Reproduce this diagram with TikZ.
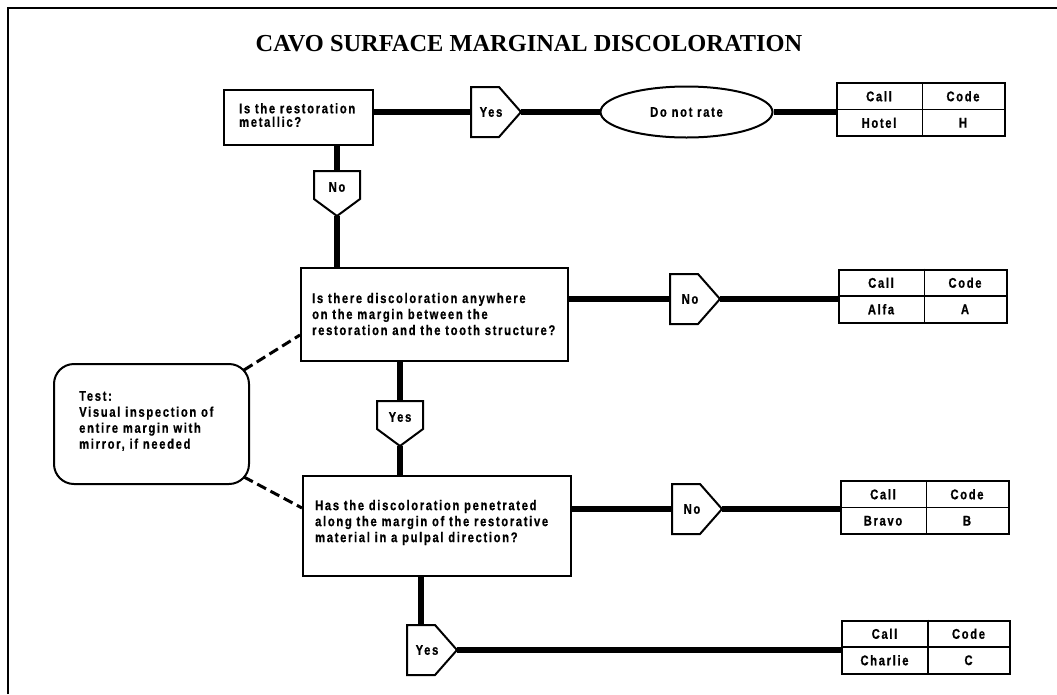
\documentclass[tikz,border=0pt]{standalone}
\usepackage{fontspec}
\usetikzlibrary{shapes.geometric}
\newfontfamily\flowfont{Liberation Sans}[FakeStretch=0.8,LetterSpace=12,FakeBold=0.8]
\newfontfamily\headfont{Liberation Serif}

\tikzset{
  frameline/.style={line width=2.5pt},
  qbox/.style={draw, line width=2pt, rectangle, inner sep=0pt},
  qtext/.style={anchor=west, align=left, inner sep=0pt,
    font=\flowfont\bfseries\fontsize{14}{16}\selectfont},
  lbl/.style={inner sep=0pt, font=\flowfont\bfseries\fontsize{14}{15}\selectfont},
  tagedge/.style={draw, line width=2pt, fill=white, line join=miter},
  flow/.style={line width=5.5pt},
  hint/.style={line width=3pt, dash pattern=on 10pt off 5pt},
  tbl/.style={draw, line width=2pt, minimum width=168pt, minimum height=53pt, inner sep=0pt},
  tblrule/.style={line width=1.6pt},
}

% answer flag pointing right: name, left x, middle y, label
\newcommand\rightflag[4]{%
  \draw[tagedge] (#2,#3-25) -- (#2+28,#3-25) -- (#2+50,#3) -- (#2+28,#3+25) -- (#2,#3+25) -- cycle;
  \node[lbl] (#1) at (#2+20,#3) {#4};
  \coordinate (#1-in) at (#2,#3);
  \coordinate (#1-out) at (#2+50,#3);
  \coordinate (#1-top) at (#2+14,#3-25);
}
% answer flag pointing down: name, centre x, top y, label
\newcommand\downflag[4]{%
  \draw[tagedge] (#2-23,#3) -- (#2+23,#3) -- (#2+23,#3+28) -- (#2,#3+45) -- (#2-23,#3+28) -- cycle;
  \node[lbl] (#1) at (#2,#3+16) {#4};
  \coordinate (#1-in) at (#2,#3);
  \coordinate (#1-out) at (#2,#3+45);
}
% call / code result table: name, centre x, centre y, call, code
\newcommand\calltable[5]{%
  \node[tbl] (#1) at (#2,#3) {};
  \draw[tblrule] (#1.west) -- (#1.east);
  \draw[tblrule] ([xshift=87pt]#1.north west) -- ([xshift=87pt]#1.south west);
  \node[lbl] (#1-a) at ([xshift=43.5pt,yshift=13.25pt]#1.west) {Call};
  \node[lbl] (#1-b) at ([xshift=127.5pt,yshift=13.25pt]#1.west) {Code};
  \node[lbl] (#1-c) at ([xshift=43.5pt,yshift=-13.25pt]#1.west) {#4};
  \node[lbl] (#1-d) at ([xshift=127.5pt,yshift=-13.25pt]#1.west) {#5};
}

\begin{document}
\begin{tikzpicture}[x=1pt,y=-1pt]
\useasboundingbox (0,0) rectangle (1057,694);
\draw[frameline] (8,694) -- (8,8) -- (1057,8);

\node[inner sep=0pt, font=\headfont\bfseries\fontsize{24.4}{28}\selectfont] (title) at (529,44)
  {CAVO SURFACE MARGINAL DISCOLORATION};

% question boxes
\node[qbox, minimum width=149pt, minimum height=55pt] (q1) at (298.5,117.5) {};
\node[qtext, font=\flowfont\bfseries\fontsize{14}{13.5}\selectfont] (q1t) at (239,115)
  {Is the restoration\\metallic?};

\node[qbox, minimum width=267pt, minimum height=93pt] (q2) at (434.5,314.5) {};
\node[qtext] (q2t) at (312,314)
  {Is there discoloration anywhere\\on the margin between the\\restoration and the tooth structure?};

\node[qbox, minimum width=268pt, minimum height=100pt] (q3) at (437,526) {};
\node[qtext] (q3t) at (315,522.5)
  {Has the discoloration penetrated\\along the margin of the restorative\\material in a pulpal direction?};

% test note
\node[qbox, rounded corners=20pt, minimum width=195pt, minimum height=120pt] (test) at (151.5,424) {};
\node[qtext] (testt) at (79,421)
  {Test:\\Visual inspection of\\entire margin with\\mirror, if needed};

% terminal
\node[lbl, draw, ellipse, line width=2pt, minimum width=172pt, minimum height=51pt] (rate) at (686.5,112) {Do not rate};

% answer flags
\rightflag{t1}{471}{112}{Yes}
\rightflag{t2}{670}{299}{No}
\rightflag{t3}{672}{509}{No}
\rightflag{t4}{407}{650}{Yes}
\downflag{d1}{337}{171}{No}
\downflag{d2}{400}{401}{Yes}

% result tables
\calltable{tH}{920.5}{109.5}{Hotel}{H}
\calltable{tA}{922.5}{296}{Alfa}{A}
\calltable{tB}{924.5}{507.5}{Bravo}{B}
\calltable{tC}{926}{647}{Charlie}{C}

% flow lines
\draw[flow] (q1.east |- t1-in) -- (t1-in);
\draw[flow] (t1-out) -- (rate.west);
\draw[flow] (rate.east) -- (rate.east -| tH.west);
\draw[flow] (q1.south -| d1-in) -- (d1-in);
\draw[flow] (d1-out) -- (d1-out |- q2.north);
\draw[flow] (q2.east |- t2-in) -- (t2-in);
\draw[flow] (t2-out) -- (t2-out -| tA.west);
\draw[flow] (q2.south -| d2-in) -- (d2-in);
\draw[flow] (d2-out) -- (d2-out |- q3.north);
\draw[flow] (q3.east |- t3-in) -- (t3-in);
\draw[flow] (t3-out) -- (t3-out -| tB.west);
\draw[flow] (q3.south -| t4-top) -- (t4-top);
\draw[flow] (t4-out) -- (t4-out -| tC.west);

% test note links
\draw[hint] ([xshift=-6pt,yshift=-7pt]test.north east) -- ([yshift=-20.5pt]q2.west);
\draw[hint] ([xshift=-6pt,yshift=8pt]test.south east) -- ([yshift=18pt]q3.west);
\end{tikzpicture}
\end{document}
